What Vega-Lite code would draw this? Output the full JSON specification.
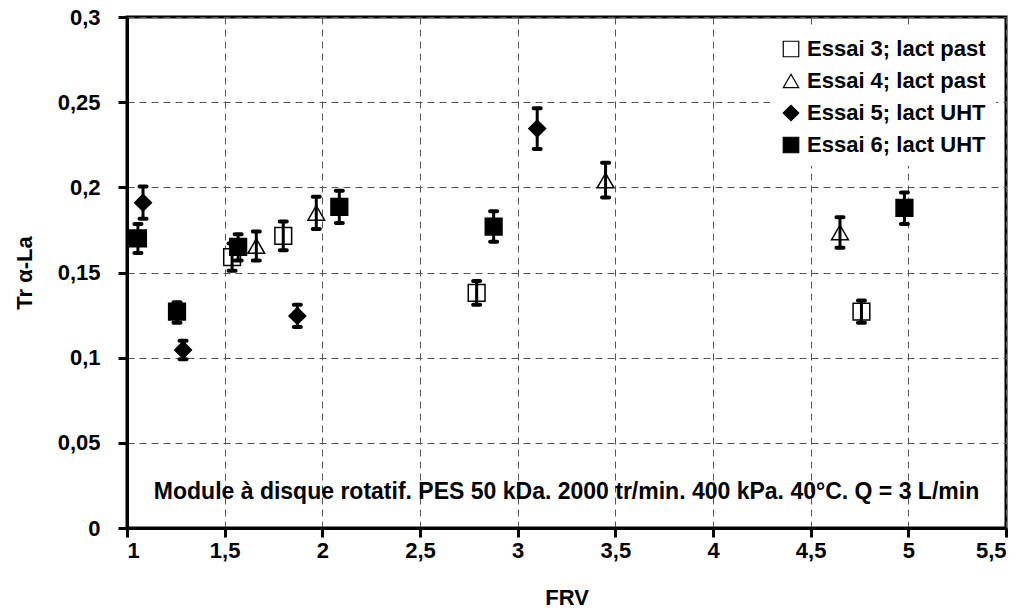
{
  "$schema": "https://vega.github.io/schema/vega-lite/v6.json",
  "autosize": "none",
  "padding": {"left": 127, "top": 17, "right": 22, "bottom": 83},
  "width": 879,
  "height": 511,
  "background": "white",
  "config": {
    "font": "Liberation Sans",
    "view": {"stroke": "black", "strokeWidth": 3},
    "axis": {
      "labelFont": "Liberation Sans", "labelFontWeight": "bold", "labelFontSize": 22, "labelColor": "black",
      "titleFont": "Liberation Sans", "titleFontWeight": "bold", "titleFontSize": 22, "titleColor": "black",
      "domainColor": "black", "domainWidth": 3, "tickColor": "black", "tickWidth": 3, "tickSize": 9,
      "gridColor": "#555555", "gridDash": [7, 5], "gridWidth": 1
    }
  },
  "data": {
    "values": [
      {"series": "Essai 3; lact past", "frv": 1.538, "tr": 0.159, "lo": 0.151, "hi": 0.167},
      {"series": "Essai 3; lact past", "frv": 1.800, "tr": 0.1715, "lo": 0.163, "hi": 0.180},
      {"series": "Essai 3; lact past", "frv": 2.790, "tr": 0.138, "lo": 0.131, "hi": 0.145},
      {"series": "Essai 3; lact past", "frv": 4.760, "tr": 0.127, "lo": 0.1205, "hi": 0.1335},
      {"series": "Essai 4; lact past", "frv": 1.662, "tr": 0.1655, "lo": 0.157, "hi": 0.174},
      {"series": "Essai 4; lact past", "frv": 1.969, "tr": 0.185, "lo": 0.1755, "hi": 0.1945},
      {"series": "Essai 4; lact past", "frv": 3.450, "tr": 0.204, "lo": 0.194, "hi": 0.2145},
      {"series": "Essai 4; lact past", "frv": 4.650, "tr": 0.1735, "lo": 0.1645, "hi": 0.1825},
      {"series": "Essai 5; lact UHT", "frv": 1.082, "tr": 0.191, "lo": 0.1815, "hi": 0.2005},
      {"series": "Essai 5; lact UHT", "frv": 1.287, "tr": 0.1045, "lo": 0.099, "hi": 0.110},
      {"series": "Essai 5; lact UHT", "frv": 1.872, "tr": 0.1245, "lo": 0.118, "hi": 0.131},
      {"series": "Essai 5; lact UHT", "frv": 3.100, "tr": 0.2345, "lo": 0.2225, "hi": 0.2465},
      {"series": "Essai 6; lact UHT", "frv": 1.056, "tr": 0.170, "lo": 0.1615, "hi": 0.1785},
      {"series": "Essai 6; lact UHT", "frv": 1.256, "tr": 0.127, "lo": 0.1205, "hi": 0.1325},
      {"series": "Essai 6; lact UHT", "frv": 1.569, "tr": 0.165, "lo": 0.157, "hi": 0.1725},
      {"series": "Essai 6; lact UHT", "frv": 2.087, "tr": 0.1885, "lo": 0.179, "hi": 0.198},
      {"series": "Essai 6; lact UHT", "frv": 2.877, "tr": 0.177, "lo": 0.168, "hi": 0.186},
      {"series": "Essai 6; lact UHT", "frv": 4.980, "tr": 0.188, "lo": 0.1785, "hi": 0.197}
    ]
  },
  "layer": [
    {
      "mark": {"type": "point", "filled": true, "strokeWidth": 1.5, "opacity": 1, "size": 280},
      "encoding": {
        "x": {
          "field": "frv", "type": "quantitative",
          "scale": {"domain": [1, 5.5], "nice": false, "zero": false},
          "axis": {"title": "FRV", "values": [1, 1.5, 2, 2.5, 3, 3.5, 4, 4.5, 5, 5.5],
                   "labelExpr": "replace(toString(datum.value), '.', ',')",
                   "labelPadding": 3, "titlePadding": 26}
        },
        "y": {
          "field": "tr", "type": "quantitative",
          "scale": {"domain": [0, 0.3], "nice": false},
          "axis": {"title": "Tr α-La", "values": [0, 0.05, 0.1, 0.15, 0.2, 0.25, 0.3],
                   "labelExpr": "replace(toString(datum.value), '.', ',')",
                   "labelPadding": 18, "titlePadding": 21}
        },
        "shape": {
          "field": "series", "type": "nominal", "title": null,
          "scale": {"domain": ["Essai 3; lact past", "Essai 4; lact past", "Essai 5; lact UHT", "Essai 6; lact UHT"],
                    "range": ["square", "triangle-up", "diamond", "square"]},
          "legend": {
            "orient": "none", "legendX": 643, "legendY": 11,
            "fillColor": "white", "padding": 10, "labelLimit": 400,
            "labelFont": "Liberation Sans", "labelFontWeight": "bold", "labelFontSize": 22, "labelColor": "black",
            "labelOffset": 5, "rowPadding": 10, "symbolSize": 240, "symbolStrokeWidth": 1.2
          }
        },
        "fill": {
          "field": "series", "type": "nominal", "title": null,
          "scale": {"domain": ["Essai 3; lact past", "Essai 4; lact past", "Essai 5; lact UHT", "Essai 6; lact UHT"],
                    "range": ["white", "white", "black", "black"]}
        },
        "stroke": {
          "field": "series", "type": "nominal", "title": null,
          "scale": {"domain": ["Essai 3; lact past", "Essai 4; lact past", "Essai 5; lact UHT", "Essai 6; lact UHT"],
                    "range": ["black", "black", "black", "black"]}
        }
      }
    },
    {
      "mark": {"type": "rule", "color": "black", "strokeWidth": 3},
      "encoding": {
        "x": {"field": "frv", "type": "quantitative"},
        "y": {"field": "lo", "type": "quantitative"},
        "y2": {"field": "hi"}
      }
    },
    {
      "mark": {"type": "tick", "orient": "horizontal", "color": "black", "thickness": 4, "size": 11, "cornerRadius": 2, "opacity": 1},
      "encoding": {
        "x": {"field": "frv", "type": "quantitative"},
        "y": {"field": "lo", "type": "quantitative"}
      }
    },
    {
      "mark": {"type": "tick", "orient": "horizontal", "color": "black", "thickness": 4, "size": 11, "cornerRadius": 2, "opacity": 1},
      "encoding": {
        "x": {"field": "frv", "type": "quantitative"},
        "y": {"field": "hi", "type": "quantitative"}
      }
    },
    {
      "data": {"values": [{"frv": 3.25, "tr": 0.021, "note": "Module à disque rotatif. PES 50 kDa. 2000 tr/min. 400 kPa. 40°C. Q = 3 L/min"}]},
      "mark": {"type": "text", "font": "Liberation Sans", "fontWeight": "bold", "fontSize": 23, "color": "black", "align": "center", "baseline": "middle"},
      "encoding": {
        "x": {"field": "frv", "type": "quantitative"},
        "y": {"field": "tr", "type": "quantitative"},
        "text": {"field": "note"}
      }
    }
  ]
}
